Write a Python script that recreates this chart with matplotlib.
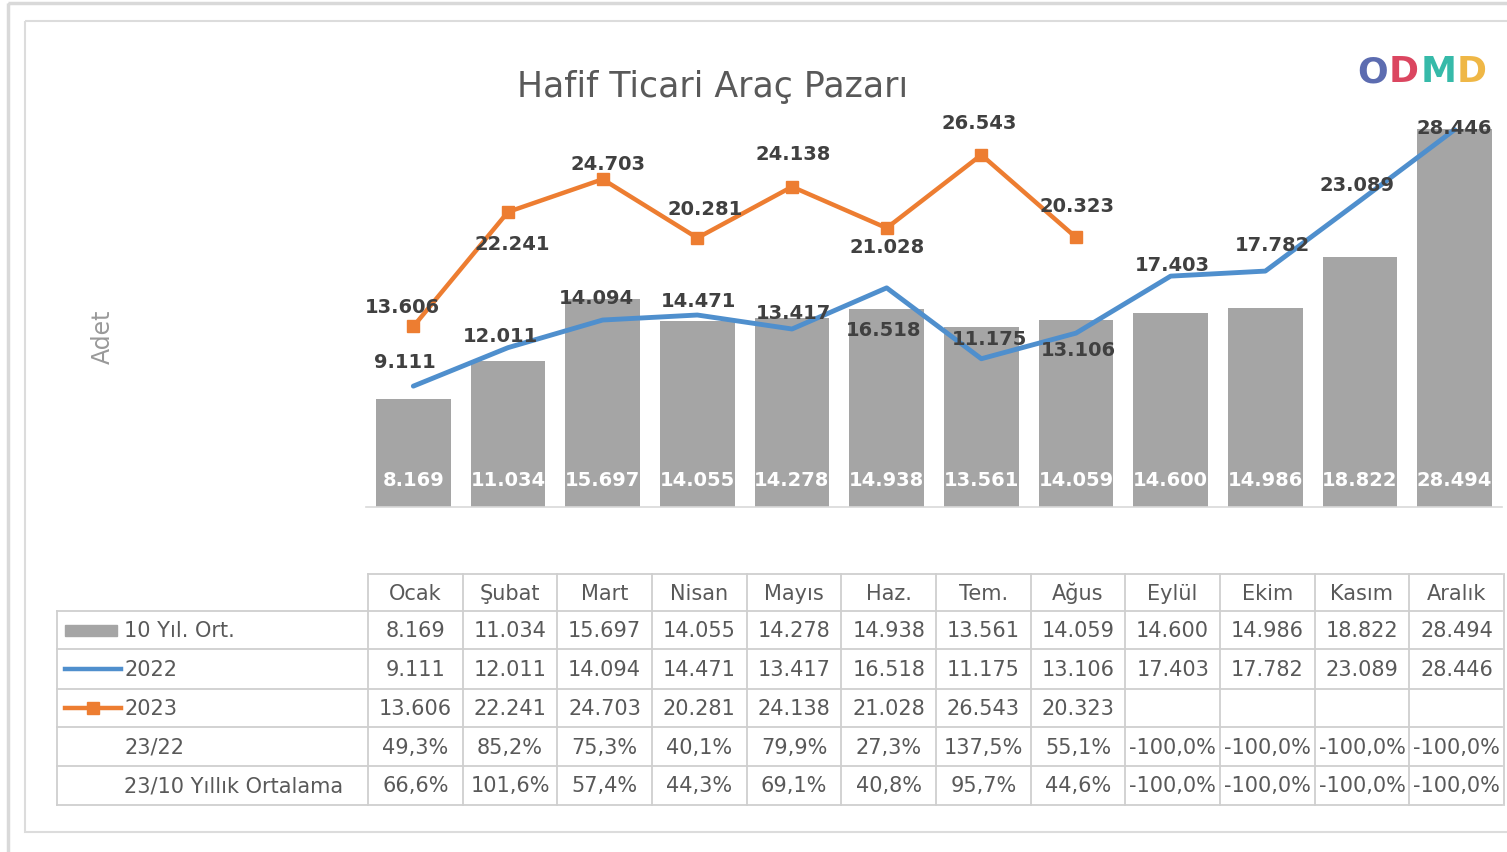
import matplotlib
matplotlib.use("Agg")
import matplotlib.pyplot as plt
from matplotlib.patches import Rectangle
from matplotlib.lines import Line2D

plt.rcParams['font.family'] = ['DejaVu Sans']

# data
months = ["Ocak", "Şubat", "Mart", "Nisan", "Mayıs", "Haz.", "Tem.", "Ağus",
          "Eylül", "Ekim", "Kasım", "Aralık"]
avg10 = [8169, 11034, 15697, 14055, 14278, 14938, 13561, 14059, 14600, 14986, 18822, 28494]
y2022 = [9111, 12011, 14094, 14471, 13417, 16518, 11175, 13106, 17403, 17782, 23089, 28446]
y2023 = [13606, 22241, 24703, 20281, 24138, 21028, 26543, 20323]
ratio_23_22 = ["49,3%", "85,2%", "75,3%", "40,1%", "79,9%", "27,3%", "137,5%", "55,1%",
               "-100,0%", "-100,0%", "-100,0%", "-100,0%"]
ratio_23_10 = ["66,6%", "101,6%", "57,4%", "44,3%", "69,1%", "40,8%", "95,7%", "44,6%",
               "-100,0%", "-100,0%", "-100,0%", "-100,0%"]
row_names = ["10 Yıl. Ort.", "2022", "2023", "23/22", "23/10 Yıllık Ortalama"]

# label offsets in pixels (dx, dy), screen y up
off2022 = [(-8, 25), (-8, 12), (-6, 23), (1, 15), (1, 17), (-3, -42),
           (8, 20), (2, -16), (2, 12), (7, 27), (-3, 16), (0, 2)]
off2023 = [(-11, 20), (4, -32), (5, 16), (8, 29), (1, 33), (0, -18), (-2, 32), (1, 32)]

GRAY = "#a5a5a5"
BLUE = "#4f8fcd"
ORANGE = "#ed7d31"
TXT = "#595959"
DARK = "#404040"

W, H = 1507, 853
fig = plt.figure(figsize=(W / 100, H / 100), dpi=100)
fig.patch.set_facecolor("white")

# pixel-space overlay for frames, table, title
bg = fig.add_axes([0, 0, 1, 1])
bg.set_xlim(0, W)
bg.set_ylim(H, 0)
bg.axis("off")
bg.add_patch(Rectangle((8, 4), W, H, fill=False, ec="#d9d9d9", lw=2.5))
bg.add_patch(Rectangle((25, 22), W, 811, fill=False, ec="#dcdcdc", lw=1.5))

# main chart axes: x from 366 to 1502 px, y=0 at 508 px, y=30000 at 110 px
x0, x1 = 366, 1502
yb, yt = 508, 110
ax = fig.add_axes([x0 / W, (H - yb) / H, (x1 - x0) / W, (yb - yt) / H])
ax.patch.set_alpha(0)
ax.set_xlim(-0.5, 11.5)
ax.set_ylim(0, 30000)
for s in ["top", "right", "left"]:
    ax.spines[s].set_visible(False)
ax.spines["bottom"].set_color("#d9d9d9")
ax.spines["bottom"].set_linewidth(1.2)
ax.set_xticks([])
ax.set_yticks([])

xs = list(range(len(months)))
ax.bar(xs, avg10, width=0.79, color=GRAY, zorder=1)
ax.plot(xs, y2022, color=BLUE, lw=3.5, solid_capstyle="round", zorder=3)
ax.plot(xs[:len(y2023)], y2023, color=ORANGE, lw=3.2, marker="s", ms=8,
        zorder=4)

def fmt(v):
    return f"{v:,}".replace(",", ".")

for i, v in enumerate(avg10):
    ax.annotate(fmt(v), (i, 0), xytext=(0, 27 * 0.72), textcoords="offset points",
                ha="center", va="center", color="white", fontsize=14,
                fontweight="semibold", zorder=5)
for i, v in enumerate(y2022):
    dx, dy = off2022[i]
    ax.annotate(fmt(v), (i, v), xytext=(dx * 0.72, dy * 0.72), textcoords="offset points",
                ha="center", va="center", color=DARK, fontsize=14,
                fontweight="bold", zorder=6)
for i, v in enumerate(y2023):
    dx, dy = off2023[i]
    ax.annotate(fmt(v), (i, v), xytext=(dx * 0.72, dy * 0.72), textcoords="offset points",
                ha="center", va="center", color=DARK, fontsize=14,
                fontweight="bold", zorder=6)

# title, axis label
bg.text(713, 87, "Hafif Ticari Araç Pazarı", ha="center", va="center",
        fontsize=25, color=TXT)
bg.text(103, 337, "Adet", ha="center", va="center", rotation=90,
        fontsize=17, color="#999999")

# logo
for ch, cx, col in [("O", 1373, "#4a5ca8"), ("D", 1404, "#d8324f"),
                    ("M", 1439, "#20b3a0"), ("D", 1472, "#eeb032")]:
    bg.text(cx, 72, ch, ha="center", va="center", fontsize=26,
            fontweight="bold", color=col, alpha=0.9)

# data table
col_w = (x1 - x0) / 12
tx0 = 368
row_y = [575, 612, 650, 690, 728, 767, 806]
lab_x0 = 57
LC = "#cfcfcf"
# horizontal lines
bg.add_line(Line2D([tx0, x1], [row_y[0]] * 2, color=LC, lw=1.3))
for y in row_y[1:]:
    bg.add_line(Line2D([lab_x0, x1], [y, y], color=LC, lw=1.3))
# vertical lines
bg.add_line(Line2D([lab_x0, lab_x0], [row_y[1], row_y[-1]], color=LC, lw=1.3))
for j in range(13):
    xv = tx0 + j * col_w
    bg.add_line(Line2D([xv, xv], [row_y[0], row_y[-1]], color=LC, lw=1.3))

cells = [[fmt(v) for v in avg10], [fmt(v) for v in y2022],
         [fmt(v) for v in y2023] + [""] * (12 - len(y2023)),
         ratio_23_22, ratio_23_10]
for j, m in enumerate(months):
    cx = tx0 + (j + 0.5) * col_w
    bg.text(cx, (row_y[0] + row_y[1]) / 2, m, ha="center", va="center",
            fontsize=15, color=TXT)
    for r in range(5):
        cy = (row_y[r + 1] + row_y[r + 2]) / 2
        bg.text(cx, cy, cells[r][j], ha="center", va="center",
                fontsize=15, color=TXT)

for r, name in enumerate(row_names):
    cy = (row_y[r + 1] + row_y[r + 2]) / 2
    bg.text(124, cy, name, ha="left", va="center", fontsize=15, color=TXT)

# legend keys in table
cy0 = (row_y[1] + row_y[2]) / 2
bg.add_patch(Rectangle((65, cy0 - 5), 52, 11, color=GRAY))
cy1 = (row_y[2] + row_y[3]) / 2
bg.add_line(Line2D([65, 121], [cy1, cy1], color=BLUE, lw=3.2))
cy2 = (row_y[3] + row_y[4]) / 2
bg.add_line(Line2D([65, 121], [cy2, cy2], color=ORANGE, lw=3.2))
bg.add_line(Line2D([93], [cy2], color=ORANGE, marker="s", ms=9, lw=0))

fig.savefig("out.png", dpi=100, facecolor="white")
